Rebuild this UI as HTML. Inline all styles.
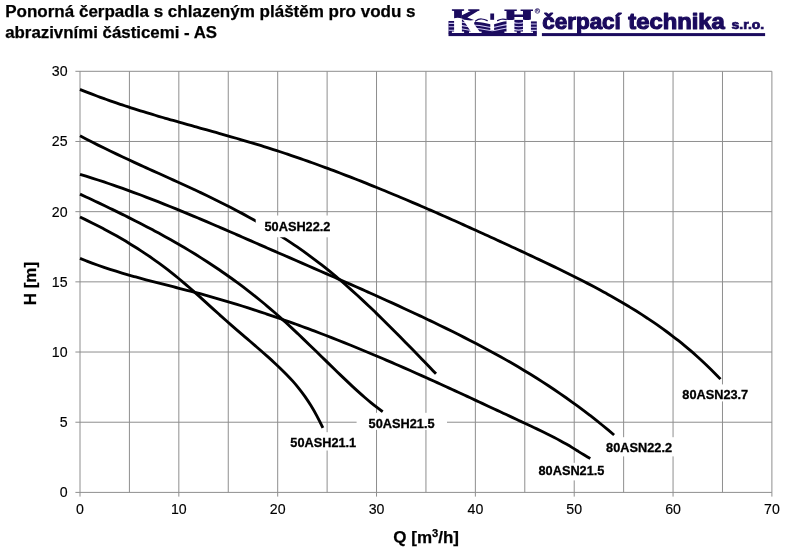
<!DOCTYPE html>
<html lang="cs"><head><meta charset="utf-8"><title>Ponorná čerpadla AS</title>
<style>
html,body{margin:0;padding:0;background:#fff;}
body{width:800px;height:558px;overflow:hidden;font-family:"Liberation Sans",sans-serif;}
svg{display:block;font-family:"Liberation Sans",sans-serif;will-change:transform;}
.ax{font-size:14.17px;fill:#000;stroke:#000;stroke-width:0.15;}
.lb{font-size:12.75px;font-weight:bold;fill:#000;stroke:#000;stroke-width:0.3;}
.tt{font-size:17px;font-weight:bold;fill:#000;stroke:#000;stroke-width:0.25;}
.cv{fill:none;stroke:#000;stroke-width:2.85;stroke-linecap:butt;stroke-linejoin:round;}
.g{stroke:#8e8e8e;stroke-width:1;fill:none;}
</style></head><body>
<svg width="800" height="558" viewBox="0 0 800 558">
<rect x="0" y="0" width="800" height="558" fill="#ffffff"/>
<text class="tt" style="font-size:17.03px" x="5.2" y="16.8">Ponorná čerpadla s chlazeným pláštěm pro vodu s</text>
<text class="tt" style="font-size:16.85px" x="5.2" y="37.9">abrazivními částicemi - AS</text>
<g id="logo">
<!-- dark wave field pieces -->
<g fill="#1b0b5e">
<rect x="448.5" y="21.0" width="6.5" height="12.5"/>
<path d="M461 19.6 L468.5 19.8 L474 33.2 L461 33.2 Z"/>
<path d="M474.2 22.3 C479 21.5 485 23.0 490.3 24.3 L494.1 24.3 C499 23.0 503 21.5 507 21.3 L507 33.2 L474.2 33.2 Z"/>
<rect x="513.6" y="19.9" width="10.4" height="13.4"/>
<rect x="530.2" y="21.4" width="6.6" height="12"/>
<rect x="448.5" y="32.8" width="88.3" height="3.3"/>
</g>
<!-- crest strokes -->
<g fill="none" stroke="#1b0b5e" stroke-width="1.25" stroke-linecap="round">
<path d="M475.6 21.0 Q478.2 18.9 481.5 19.0 Q484.6 19.3 487.2 20.6"/>
<path d="M497.6 20.6 Q500.2 19.2 503.0 19.0 Q505.2 19.0 506.8 19.6"/>
</g>
<!-- light stripes -->
<g fill="none" stroke="#cfc9f2" stroke-width="1.1">
<path d="M448.5 23.4 H455 M448.5 26.8 H455 M448.5 30.2 H455"/>
<path d="M461 22.0 L470 23.6 M461 25.4 L471.4 27.2 M461 28.8 L472.8 30.8"/>
<path d="M474.2 25.3 C480 24.9 486 27.0 492.2 27.6 C498 27.0 502 25.0 507 24.6"/>
<path d="M476 28.5 C481 28.3 486 30.3 492.2 30.7 C498 30.3 502 28.4 507 28.0"/>
<path d="M513.6 22.6 C517 23.6 520 23.6 524 22.6 M513.6 26.0 C517 27.0 520 27.0 524 26.0 M513.6 29.4 C517 30.4 520 30.4 524 29.4"/>
<path d="M530.2 24.0 H536.8 M530.2 27.2 H536.8 M530.2 30.4 H536.8"/>
</g>
<!-- white lower letter parts -->
<g fill="#ffffff">
<path d="M454.1 18.2 C456.5 17.4 459.5 17.4 461.9 18.6 L461.9 31.4 L464.1 31.6 L464.1 33.0 L451.9 33.0 L451.9 31.6 L454.1 31.4 Z"/>
<path d="M462.5 19.4 L470.5 19.2 L479.6 31.5 L481.6 31.6 L481.6 33.0 L469.0 33.0 L469.0 31.6 L470.8 31.4 L464.4 21.8 Z"/>
<rect x="490.3" y="19.6" width="3.8" height="10.6"/>
<path d="M506.5 19.4 C509 20.2 512 20.2 514.4 19.4 L514.4 31.4 L516.8 31.6 L516.8 32.9 L504.4 32.9 L504.4 31.6 L506.5 31.4 Z"/>
<path d="M523.0 19.4 C525.5 20.2 528.5 20.2 530.9 19.4 L530.9 31.4 L533.0 31.6 L533.0 32.9 L520.6 32.9 L520.6 31.6 L523.0 31.4 Z"/>
</g>
<!-- dark upper letter parts -->
<g fill="#1b0b5e">
<path d="M451.9 9.2 L464.1 9.2 L464.1 10.7 L461.9 10.9 L461.9 18.6 C459.5 17.4 456.5 17.4 454.1 18.2 L454.1 10.9 L451.9 10.7 Z"/>
<path d="M468.2 9.2 L479.4 9.2 L479.4 10.7 L477.9 10.9 L467.3 17.4 L474.0 20.0 L470.6 20.4 L464.4 19.8 L461.9 18.4 L461.9 15.2 L470.6 10.9 L468.2 10.7 Z"/>
<rect x="490.3" y="13.5" width="3.8" height="6.3"/>
<path d="M504.4 9.4 L516.8 9.4 L516.8 10.9 L514.4 11.1 L514.4 14.6 L523.0 14.6 L523.0 11.1 L520.6 10.9 L520.6 9.4 L533.0 9.4 L533.0 10.9 L530.9 11.1 L530.9 19.4 C528.5 20.2 525.5 20.2 523.0 19.4 L523.0 17.0 L514.4 17.0 L514.4 19.4 C512 20.2 509 20.2 506.5 19.4 L506.5 11.1 L504.4 10.9 Z"/>
</g>
<!-- registered mark -->
<circle cx="537.4" cy="10.9" r="2.3" fill="none" stroke="#1b0b5e" stroke-width="0.7"/>
<text x="537.4" y="12.3" text-anchor="middle" font-size="3.8" font-weight="bold" fill="#1b0b5e">R</text>
<!-- underline -->
<rect x="541.9" y="33.1" width="223.2" height="3.0" fill="#1b0b5e"/>
<!-- wordmark -->
<g fill="#1b0b5e" stroke="#1b0b5e" stroke-width="1.15" stroke-linejoin="round" font-weight="bold">
<text x="542.3" y="29" font-size="22.4" textLength="78.5" lengthAdjust="spacingAndGlyphs">čerpací</text>
<text x="628.3" y="29" font-size="22.4" textLength="96.5" lengthAdjust="spacingAndGlyphs">technika</text>
</g>
<text x="731.6" y="29" font-size="12" font-weight="bold" fill="#1b0b5e" stroke="#1b0b5e" stroke-width="0.7" textLength="32.6" lengthAdjust="spacingAndGlyphs">s.r.o.</text>
</g>

<g class="g">
<line x1="80.00" y1="71.30" x2="80.00" y2="492.40"/>
<line x1="129.42" y1="71.30" x2="129.42" y2="492.40"/>
<line x1="178.84" y1="71.30" x2="178.84" y2="492.40"/>
<line x1="228.26" y1="71.30" x2="228.26" y2="492.40"/>
<line x1="277.69" y1="71.30" x2="277.69" y2="492.40"/>
<line x1="327.11" y1="71.30" x2="327.11" y2="492.40"/>
<line x1="376.53" y1="71.30" x2="376.53" y2="492.40"/>
<line x1="425.95" y1="71.30" x2="425.95" y2="492.40"/>
<line x1="475.37" y1="71.30" x2="475.37" y2="492.40"/>
<line x1="524.79" y1="71.30" x2="524.79" y2="492.40"/>
<line x1="574.21" y1="71.30" x2="574.21" y2="492.40"/>
<line x1="623.64" y1="71.30" x2="623.64" y2="492.40"/>
<line x1="673.06" y1="71.30" x2="673.06" y2="492.40"/>
<line x1="722.48" y1="71.30" x2="722.48" y2="492.40"/>
<line x1="771.90" y1="71.30" x2="771.90" y2="492.40"/>
<line x1="75.40" y1="492.40" x2="771.90" y2="492.40"/>
<line x1="75.40" y1="422.22" x2="771.90" y2="422.22"/>
<line x1="75.40" y1="352.03" x2="771.90" y2="352.03"/>
<line x1="75.40" y1="281.85" x2="771.90" y2="281.85"/>
<line x1="75.40" y1="211.67" x2="771.90" y2="211.67"/>
<line x1="75.40" y1="141.48" x2="771.90" y2="141.48"/>
<line x1="75.40" y1="71.30" x2="771.90" y2="71.30"/>
<line x1="80.00" y1="492.40" x2="80.00" y2="496.60"/>
<line x1="178.84" y1="492.40" x2="178.84" y2="496.60"/>
<line x1="277.69" y1="492.40" x2="277.69" y2="496.60"/>
<line x1="376.53" y1="492.40" x2="376.53" y2="496.60"/>
<line x1="475.37" y1="492.40" x2="475.37" y2="496.60"/>
<line x1="574.21" y1="492.40" x2="574.21" y2="496.60"/>
<line x1="673.06" y1="492.40" x2="673.06" y2="496.60"/>
<line x1="771.90" y1="492.40" x2="771.90" y2="496.60"/>
</g>
<path class="cv" d="M80.00 89.43 C82.01 90.25 84.03 91.05 86.04 91.85 C88.06 92.64 90.07 93.42 92.08 94.19 C94.10 94.96 96.11 95.72 98.13 96.47 C100.14 97.22 102.16 97.96 104.17 98.68 C106.18 99.41 108.20 100.13 110.21 100.83 C112.23 101.54 114.24 102.24 116.25 102.92 C118.27 103.61 120.28 104.29 122.30 104.96 C124.31 105.63 126.33 106.29 128.34 106.95 C130.35 107.60 132.37 108.25 134.38 108.89 C136.40 109.53 138.41 110.16 140.42 110.79 C142.44 111.41 144.45 112.03 146.47 112.65 C148.48 113.26 150.50 113.87 152.51 114.47 C154.52 115.07 156.54 115.67 158.55 116.26 C160.57 116.86 162.58 117.44 164.59 118.03 C166.61 118.61 168.62 119.19 170.64 119.77 C172.65 120.35 174.67 120.92 176.68 121.49 C178.69 122.07 180.71 122.63 182.72 123.20 C184.74 123.77 186.75 124.33 188.76 124.90 C190.78 125.46 192.79 126.02 194.81 126.58 C196.82 127.15 198.83 127.71 200.85 128.27 C202.86 128.83 204.88 129.39 206.89 129.95 C208.91 130.51 210.92 131.08 212.93 131.64 C214.95 132.20 216.96 132.77 218.98 133.33 C220.99 133.90 223.00 134.47 225.02 135.04 C227.03 135.61 229.05 136.18 231.06 136.76 C233.08 137.34 235.09 137.92 237.10 138.50 C239.12 139.09 241.13 139.67 243.15 140.27 C245.16 140.86 247.17 141.45 249.19 142.06 C251.20 142.66 253.22 143.26 255.23 143.88 C257.25 144.49 259.26 145.11 261.27 145.73 C263.29 146.36 265.30 146.99 267.32 147.63 C269.33 148.26 271.34 148.91 273.36 149.55 C275.37 150.20 277.39 150.86 279.40 151.52 C281.42 152.18 283.43 152.85 285.44 153.52 C287.46 154.19 289.47 154.87 291.49 155.56 C293.50 156.24 295.51 156.93 297.53 157.62 C299.54 158.32 301.56 159.02 303.57 159.73 C305.58 160.43 307.60 161.14 309.61 161.86 C311.63 162.58 313.64 163.30 315.66 164.03 C317.67 164.75 319.68 165.49 321.70 166.22 C323.71 166.96 325.73 167.70 327.74 168.45 C329.75 169.20 331.77 169.95 333.78 170.70 C335.80 171.46 337.81 172.22 339.83 172.99 C341.84 173.75 343.85 174.52 345.87 175.30 C347.88 176.07 349.90 176.85 351.91 177.64 C353.92 178.42 355.94 179.21 357.95 180.00 C359.97 180.80 361.98 181.59 364.00 182.39 C366.01 183.20 368.02 184.00 370.04 184.81 C372.05 185.62 374.07 186.43 376.08 187.25 C378.09 188.07 380.11 188.89 382.12 189.71 C384.14 190.54 386.15 191.36 388.17 192.20 C390.18 193.03 392.19 193.86 394.21 194.70 C396.22 195.54 398.24 196.38 400.25 197.23 C402.26 198.08 404.28 198.93 406.29 199.78 C408.31 200.63 410.32 201.49 412.33 202.35 C414.35 203.21 416.36 204.07 418.38 204.93 C420.39 205.80 422.41 206.67 424.42 207.54 C426.43 208.41 428.45 209.28 430.46 210.16 C432.48 211.04 434.49 211.92 436.50 212.80 C438.52 213.68 440.53 214.56 442.55 215.45 C444.56 216.34 446.58 217.23 448.59 218.12 C450.60 219.01 452.62 219.91 454.63 220.81 C456.65 221.70 458.66 222.60 460.67 223.51 C462.69 224.41 464.70 225.31 466.72 226.22 C468.73 227.12 470.75 228.03 472.76 228.94 C474.77 229.85 476.79 230.77 478.80 231.68 C480.82 232.60 482.83 233.51 484.84 234.43 C486.86 235.35 488.87 236.27 490.89 237.19 C492.90 238.11 494.92 239.04 496.93 239.96 C498.94 240.89 500.96 241.81 502.97 242.74 C504.99 243.67 507.00 244.60 509.01 245.53 C511.03 246.46 513.04 247.40 515.06 248.33 C517.07 249.27 519.08 250.20 521.10 251.14 C523.11 252.07 525.13 253.01 527.14 253.95 C529.16 254.89 531.17 255.83 533.18 256.78 C535.20 257.72 537.21 258.66 539.23 259.61 C541.24 260.56 543.25 261.51 545.27 262.47 C547.28 263.42 549.30 264.38 551.31 265.35 C553.33 266.31 555.34 267.28 557.35 268.26 C559.37 269.23 561.38 270.21 563.40 271.20 C565.41 272.18 567.42 273.18 569.44 274.18 C571.45 275.18 573.47 276.18 575.48 277.20 C577.50 278.21 579.51 279.23 581.52 280.27 C583.54 281.30 585.55 282.34 587.57 283.39 C589.58 284.44 591.59 285.50 593.61 286.56 C595.62 287.63 597.64 288.71 599.65 289.80 C601.67 290.90 603.68 292.00 605.69 293.11 C607.71 294.23 609.72 295.35 611.74 296.49 C613.75 297.63 615.76 298.78 617.78 299.94 C619.79 301.11 621.81 302.29 623.82 303.48 C625.83 304.67 627.85 305.88 629.86 307.10 C631.88 308.32 633.89 309.56 635.91 310.82 C637.92 312.08 639.93 313.35 641.95 314.65 C643.96 315.94 645.98 317.26 647.99 318.59 C650.00 319.93 652.02 321.29 654.03 322.67 C656.05 324.05 658.06 325.45 660.08 326.88 C662.09 328.31 664.10 329.77 666.12 331.25 C668.13 332.73 670.15 334.24 672.16 335.78 C674.17 337.32 676.19 338.88 678.20 340.48 C680.22 342.08 682.23 343.70 684.25 345.36 C686.26 347.02 688.27 348.72 690.29 350.44 C692.30 352.17 694.32 353.93 696.33 355.73 C698.34 357.52 700.36 359.35 702.37 361.23 C704.39 363.10 706.40 365.00 708.42 366.95 C710.43 368.90 712.44 370.89 714.46 372.92 C716.47 374.95 718.49 377.02 720.50 379.14"/>
<path class="cv" d="M80.00 135.82 C82.01 136.88 84.02 137.94 86.03 138.98 C88.05 140.02 90.06 141.05 92.07 142.08 C94.08 143.10 96.09 144.11 98.10 145.11 C100.11 146.11 102.12 147.11 104.14 148.09 C106.15 149.08 108.16 150.05 110.17 151.02 C112.18 151.99 114.19 152.95 116.20 153.90 C118.21 154.86 120.23 155.81 122.24 156.75 C124.25 157.69 126.26 158.63 128.27 159.56 C130.28 160.49 132.29 161.42 134.31 162.34 C136.32 163.27 138.33 164.19 140.34 165.10 C142.35 166.02 144.36 166.93 146.37 167.85 C148.38 168.76 150.40 169.67 152.41 170.58 C154.42 171.48 156.43 172.39 158.44 173.30 C160.45 174.21 162.46 175.12 164.47 176.02 C166.49 176.93 168.50 177.84 170.51 178.75 C172.52 179.66 174.53 180.58 176.54 181.49 C178.55 182.41 180.56 183.33 182.58 184.25 C184.59 185.17 186.60 186.09 188.61 187.02 C190.62 187.95 192.63 188.89 194.64 189.83 C196.66 190.77 198.67 191.71 200.68 192.66 C202.69 193.61 204.70 194.57 206.71 195.54 C208.72 196.50 210.73 197.47 212.75 198.45 C214.76 199.43 216.77 200.42 218.78 201.42 C220.79 202.42 222.80 203.42 224.81 204.44 C226.82 205.46 228.84 206.48 230.85 207.52 C232.86 208.56 234.87 209.60 236.88 210.66 C238.89 211.73 240.90 212.80 242.92 213.88 C244.93 214.97 246.94 216.06 248.95 217.18 C250.96 218.29 252.97 219.41 254.98 220.55 C256.99 221.69 259.01 222.84 261.02 224.01 C263.03 225.18 265.04 226.37 267.05 227.57 C269.06 228.77 271.07 229.99 273.08 231.22 C275.10 232.46 277.11 233.71 279.12 234.98 C281.13 236.25 283.14 237.54 285.15 238.85 C287.16 240.16 289.18 241.49 291.19 242.84 C293.20 244.18 295.21 245.55 297.22 246.94 C299.23 248.33 301.24 249.74 303.25 251.17 C305.27 252.60 307.28 254.06 309.29 255.53 C311.30 257.01 313.31 258.51 315.32 260.03 C317.33 261.56 319.34 263.10 321.36 264.68 C323.37 266.25 325.38 267.84 327.39 269.47 C329.40 271.09 331.41 272.74 333.42 274.41 C335.44 276.08 337.45 277.78 339.46 279.50 C341.47 281.21 343.48 282.96 345.49 284.72 C347.50 286.48 349.51 288.27 351.53 290.07 C353.54 291.87 355.55 293.70 357.56 295.54 C359.57 297.38 361.58 299.25 363.59 301.12 C365.60 303.00 367.62 304.90 369.63 306.81 C371.64 308.72 373.65 310.65 375.66 312.59 C377.67 314.54 379.68 316.49 381.69 318.46 C383.71 320.43 385.72 322.42 387.73 324.41 C389.74 326.41 391.75 328.41 393.76 330.43 C395.77 332.45 397.79 334.47 399.80 336.51 C401.81 338.55 403.82 340.59 405.83 342.65 C407.84 344.70 409.85 346.76 411.86 348.83 C413.88 350.89 415.89 352.97 417.90 355.05 C419.91 357.12 421.92 359.21 423.93 361.29 C425.94 363.38 427.95 365.47 429.97 367.56 C431.98 369.66 433.99 371.75 436.00 373.85"/>
<path class="cv" d="M80.00 174.36 C82.00 174.96 84.00 175.56 86.00 176.18 C88.00 176.80 90.00 177.42 92.00 178.06 C94.00 178.69 96.00 179.34 98.00 179.99 C100.00 180.64 102.00 181.30 104.00 181.97 C106.00 182.63 108.01 183.31 110.01 183.99 C112.01 184.67 114.01 185.37 116.01 186.06 C118.01 186.76 120.01 187.47 122.01 188.18 C124.01 188.89 126.01 189.61 128.01 190.34 C130.01 191.06 132.01 191.80 134.01 192.54 C136.01 193.28 138.01 194.02 140.01 194.77 C142.01 195.53 144.01 196.28 146.01 197.05 C148.01 197.81 150.01 198.58 152.01 199.36 C154.01 200.13 156.01 200.91 158.01 201.70 C160.01 202.49 162.02 203.28 164.02 204.07 C166.02 204.87 168.02 205.67 170.02 206.48 C172.02 207.28 174.02 208.09 176.02 208.91 C178.02 209.72 180.02 210.54 182.02 211.36 C184.02 212.19 186.02 213.01 188.02 213.84 C190.02 214.67 192.02 215.51 194.02 216.35 C196.02 217.18 198.02 218.03 200.02 218.87 C202.02 219.71 204.02 220.56 206.02 221.41 C208.02 222.26 210.02 223.11 212.02 223.97 C214.03 224.83 216.03 225.68 218.03 226.54 C220.03 227.40 222.03 228.27 224.03 229.13 C226.03 229.99 228.03 230.86 230.03 231.73 C232.03 232.59 234.03 233.46 236.03 234.33 C238.03 235.20 240.03 236.08 242.03 236.95 C244.03 237.82 246.03 238.69 248.03 239.57 C250.03 240.44 252.03 241.32 254.03 242.19 C256.03 243.07 258.03 243.94 260.03 244.82 C262.03 245.69 264.03 246.57 266.03 247.45 C268.04 248.32 270.04 249.20 272.04 250.07 C274.04 250.94 276.04 251.82 278.04 252.69 C280.04 253.57 282.04 254.44 284.04 255.31 C286.04 256.18 288.04 257.05 290.04 257.92 C292.04 258.79 294.04 259.66 296.04 260.53 C298.04 261.40 300.04 262.27 302.04 263.14 C304.04 264.01 306.04 264.88 308.04 265.75 C310.04 266.62 312.04 267.49 314.04 268.36 C316.04 269.23 318.04 270.10 320.04 270.97 C322.05 271.84 324.05 272.72 326.05 273.59 C328.05 274.46 330.05 275.33 332.05 276.21 C334.05 277.08 336.05 277.96 338.05 278.83 C340.05 279.71 342.05 280.59 344.05 281.47 C346.05 282.34 348.05 283.22 350.05 284.11 C352.05 284.99 354.05 285.87 356.05 286.75 C358.05 287.64 360.05 288.53 362.05 289.41 C364.05 290.30 366.05 291.19 368.05 292.08 C370.05 292.98 372.05 293.87 374.06 294.77 C376.06 295.66 378.06 296.56 380.06 297.47 C382.06 298.37 384.06 299.27 386.06 300.18 C388.06 301.08 390.06 301.99 392.06 302.91 C394.06 303.82 396.06 304.73 398.06 305.65 C400.06 306.57 402.06 307.49 404.06 308.42 C406.06 309.34 408.06 310.27 410.06 311.20 C412.06 312.13 414.06 313.07 416.06 314.01 C418.06 314.94 420.06 315.89 422.06 316.83 C424.06 317.78 426.06 318.73 428.07 319.68 C430.07 320.64 432.07 321.59 434.07 322.56 C436.07 323.52 438.07 324.49 440.07 325.46 C442.07 326.43 444.07 327.40 446.07 328.38 C448.07 329.36 450.07 330.35 452.07 331.34 C454.07 332.33 456.07 333.33 458.07 334.33 C460.07 335.33 462.07 336.34 464.07 337.36 C466.07 338.38 468.07 339.40 470.07 340.43 C472.07 341.46 474.07 342.49 476.07 343.54 C478.07 344.58 480.07 345.64 482.08 346.70 C484.08 347.76 486.08 348.83 488.08 349.91 C490.08 350.99 492.08 352.07 494.08 353.17 C496.08 354.27 498.08 355.37 500.08 356.49 C502.08 357.61 504.08 358.73 506.08 359.87 C508.08 361.01 510.08 362.16 512.08 363.32 C514.08 364.48 516.08 365.65 518.08 366.83 C520.08 368.01 522.08 369.21 524.08 370.41 C526.08 371.62 528.08 372.84 530.08 374.07 C532.08 375.30 534.09 376.55 536.09 377.81 C538.09 379.07 540.09 380.34 542.09 381.62 C544.09 382.91 546.09 384.21 548.09 385.53 C550.09 386.84 552.09 388.17 554.09 389.52 C556.09 390.86 558.09 392.22 560.09 393.60 C562.09 394.97 564.09 396.36 566.09 397.77 C568.09 399.18 570.09 400.60 572.09 402.04 C574.09 403.48 576.09 404.94 578.09 406.42 C580.09 407.89 582.09 409.39 584.09 410.90 C586.09 412.41 588.10 413.94 590.10 415.48 C592.10 417.03 594.10 418.60 596.10 420.18 C598.10 421.77 600.10 423.37 602.10 425.00 C604.10 426.62 606.10 428.27 608.10 429.93 C610.10 431.59 612.10 433.28 614.10 434.98"/>
<path class="cv" d="M80.00 194.09 C82.02 195.04 84.04 195.98 86.05 196.93 C88.07 197.88 90.09 198.83 92.11 199.78 C94.13 200.74 96.14 201.69 98.16 202.65 C100.18 203.61 102.20 204.57 104.22 205.54 C106.23 206.50 108.25 207.47 110.27 208.45 C112.29 209.42 114.31 210.40 116.32 211.38 C118.34 212.37 120.36 213.36 122.38 214.35 C124.40 215.35 126.41 216.35 128.43 217.36 C130.45 218.37 132.47 219.38 134.49 220.41 C136.50 221.43 138.52 222.46 140.54 223.50 C142.56 224.54 144.58 225.58 146.59 226.64 C148.61 227.69 150.63 228.76 152.65 229.83 C154.67 230.91 156.68 231.99 158.70 233.09 C160.72 234.18 162.74 235.29 164.76 236.40 C166.77 237.52 168.79 238.65 170.81 239.79 C172.83 240.92 174.85 242.08 176.86 243.24 C178.88 244.40 180.90 245.58 182.92 246.77 C184.94 247.96 186.95 249.16 188.97 250.38 C190.99 251.60 193.01 252.83 195.03 254.07 C197.04 255.32 199.06 256.58 201.08 257.85 C203.10 259.13 205.12 260.42 207.13 261.73 C209.15 263.04 211.17 264.36 213.19 265.70 C215.21 267.04 217.22 268.40 219.24 269.78 C221.26 271.15 223.28 272.55 225.30 273.96 C227.31 275.37 229.33 276.80 231.35 278.25 C233.37 279.70 235.39 281.17 237.40 282.66 C239.42 284.14 241.44 285.65 243.46 287.18 C245.48 288.71 247.49 290.26 249.51 291.83 C251.53 293.40 253.55 294.99 255.57 296.61 C257.58 298.22 259.60 299.85 261.62 301.51 C263.64 303.17 265.66 304.85 267.67 306.56 C269.69 308.26 271.71 309.99 273.73 311.74 C275.75 313.50 277.76 315.27 279.78 317.08 C281.80 318.88 283.82 320.70 285.84 322.55 C287.85 324.39 289.87 326.26 291.89 328.14 C293.91 330.02 295.93 331.92 297.94 333.83 C299.96 335.75 301.98 337.67 304.00 339.61 C306.02 341.54 308.03 343.49 310.05 345.45 C312.07 347.40 314.09 349.36 316.11 351.32 C318.12 353.29 320.14 355.26 322.16 357.23 C324.18 359.19 326.20 361.16 328.21 363.13 C330.23 365.10 332.25 367.06 334.27 369.02 C336.29 370.97 338.30 372.92 340.32 374.87 C342.34 376.81 344.36 378.74 346.38 380.65 C348.39 382.57 350.41 384.47 352.43 386.34 C354.45 388.22 356.47 390.06 358.48 391.88 C360.50 393.70 362.52 395.49 364.54 397.24 C366.56 398.98 368.57 400.69 370.59 402.35 C372.61 404.02 374.63 405.63 376.65 407.20 C378.66 408.76 380.68 410.27 382.70 411.72"/>
<path class="cv" d="M80.00 217.00 C82.02 217.96 84.05 218.93 86.07 219.92 C88.10 220.90 90.12 221.90 92.14 222.91 C94.17 223.92 96.19 224.95 98.22 225.99 C100.24 227.03 102.27 228.09 104.29 229.16 C106.31 230.24 108.34 231.33 110.36 232.44 C112.39 233.55 114.41 234.67 116.44 235.82 C118.46 236.97 120.48 238.13 122.51 239.32 C124.53 240.50 126.56 241.71 128.58 242.94 C130.60 244.16 132.63 245.41 134.65 246.69 C136.68 247.96 138.70 249.26 140.72 250.58 C142.75 251.90 144.77 253.24 146.80 254.61 C148.82 255.98 150.85 257.38 152.87 258.80 C154.89 260.22 156.92 261.67 158.94 263.15 C160.97 264.63 162.99 266.13 165.01 267.67 C167.04 269.20 169.06 270.76 171.09 272.36 C173.11 273.95 175.14 275.58 177.16 277.23 C179.18 278.89 181.21 280.58 183.23 282.30 C185.26 284.01 187.28 285.76 189.31 287.53 C191.33 289.29 193.35 291.08 195.38 292.88 C197.40 294.68 199.43 296.50 201.45 298.33 C203.47 300.16 205.50 301.99 207.52 303.83 C209.55 305.67 211.57 307.51 213.59 309.35 C215.62 311.19 217.64 313.02 219.67 314.84 C221.69 316.67 223.72 318.48 225.74 320.28 C227.76 322.08 229.79 323.86 231.81 325.63 C233.84 327.39 235.86 329.14 237.88 330.88 C239.91 332.62 241.93 334.36 243.96 336.09 C245.98 337.82 248.01 339.55 250.03 341.28 C252.05 343.02 254.08 344.76 256.10 346.51 C258.13 348.26 260.15 350.02 262.17 351.79 C264.20 353.57 266.22 355.36 268.25 357.18 C270.27 359.00 272.30 360.84 274.32 362.71 C276.34 364.58 278.37 366.48 280.39 368.43 C282.42 370.37 284.44 372.36 286.47 374.43 C288.49 376.50 290.51 378.65 292.54 380.92 C294.56 383.18 296.59 385.56 298.61 388.08 C300.63 390.60 302.66 393.27 304.68 396.12 C306.71 398.98 308.73 402.02 310.75 405.29 C312.78 408.56 314.80 412.05 316.83 415.82 C318.85 419.58 320.88 423.62 322.90 427.96"/>
<path class="cv" d="M80.00 258.40 C82.00 259.22 84.00 260.02 86.00 260.80 C88.00 261.58 90.01 262.34 92.01 263.09 C94.01 263.83 96.01 264.55 98.01 265.26 C100.01 265.97 102.01 266.66 104.01 267.34 C106.02 268.02 108.02 268.68 110.02 269.33 C112.02 269.98 114.02 270.61 116.02 271.23 C118.02 271.85 120.02 272.46 122.02 273.06 C124.03 273.66 126.03 274.25 128.03 274.82 C130.03 275.40 132.03 275.97 134.03 276.53 C136.03 277.09 138.03 277.64 140.04 278.18 C142.04 278.72 144.04 279.26 146.04 279.79 C148.04 280.32 150.04 280.85 152.04 281.37 C154.04 281.89 156.04 282.41 158.05 282.92 C160.05 283.43 162.05 283.94 164.05 284.45 C166.05 284.96 168.05 285.47 170.05 285.98 C172.05 286.49 174.06 286.99 176.06 287.50 C178.06 288.01 180.06 288.52 182.06 289.03 C184.06 289.54 186.06 290.06 188.06 290.58 C190.06 291.09 192.07 291.62 194.07 292.14 C196.07 292.67 198.07 293.20 200.07 293.74 C202.07 294.28 204.07 294.83 206.07 295.38 C208.08 295.93 210.08 296.49 212.08 297.05 C214.08 297.62 216.08 298.19 218.08 298.77 C220.08 299.35 222.08 299.93 224.08 300.52 C226.09 301.11 228.09 301.71 230.09 302.31 C232.09 302.91 234.09 303.52 236.09 304.13 C238.09 304.75 240.09 305.37 242.10 305.99 C244.10 306.62 246.10 307.25 248.10 307.89 C250.10 308.53 252.10 309.17 254.10 309.82 C256.10 310.47 258.10 311.13 260.11 311.79 C262.11 312.45 264.11 313.12 266.11 313.79 C268.11 314.46 270.11 315.14 272.11 315.82 C274.11 316.51 276.12 317.20 278.12 317.89 C280.12 318.58 282.12 319.28 284.12 319.99 C286.12 320.69 288.12 321.40 290.12 322.12 C292.12 322.83 294.13 323.55 296.13 324.28 C298.13 325.01 300.13 325.74 302.13 326.47 C304.13 327.21 306.13 327.95 308.13 328.69 C310.14 329.44 312.14 330.19 314.14 330.95 C316.14 331.70 318.14 332.46 320.14 333.23 C322.14 333.99 324.14 334.76 326.14 335.54 C328.15 336.31 330.15 337.09 332.15 337.87 C334.15 338.66 336.15 339.45 338.15 340.24 C340.15 341.03 342.15 341.83 344.16 342.63 C346.16 343.43 348.16 344.24 350.16 345.05 C352.16 345.86 354.16 346.67 356.16 347.49 C358.16 348.31 360.16 349.13 362.17 349.96 C364.17 350.79 366.17 351.62 368.17 352.46 C370.17 353.29 372.17 354.13 374.17 354.97 C376.17 355.82 378.18 356.66 380.18 357.51 C382.18 358.37 384.18 359.22 386.18 360.08 C388.18 360.94 390.18 361.80 392.18 362.67 C394.18 363.53 396.19 364.40 398.19 365.27 C400.19 366.14 402.19 367.02 404.19 367.90 C406.19 368.78 408.19 369.66 410.19 370.54 C412.20 371.43 414.20 372.32 416.20 373.21 C418.20 374.10 420.20 374.99 422.20 375.89 C424.20 376.78 426.20 377.68 428.20 378.58 C430.21 379.48 432.21 380.39 434.21 381.29 C436.21 382.20 438.21 383.11 440.21 384.02 C442.21 384.93 444.21 385.84 446.22 386.75 C448.22 387.67 450.22 388.58 452.22 389.50 C454.22 390.42 456.22 391.34 458.22 392.26 C460.22 393.18 462.22 394.10 464.23 395.03 C466.23 395.95 468.23 396.88 470.23 397.80 C472.23 398.73 474.23 399.66 476.23 400.59 C478.23 401.52 480.24 402.45 482.24 403.38 C484.24 404.31 486.24 405.24 488.24 406.17 C490.24 407.11 492.24 408.04 494.24 408.97 C496.24 409.91 498.25 410.84 500.25 411.78 C502.25 412.71 504.25 413.65 506.25 414.58 C508.25 415.52 510.25 416.46 512.25 417.39 C514.26 418.33 516.26 419.26 518.26 420.20 C520.26 421.14 522.26 422.07 524.26 423.01 C526.26 423.94 528.26 424.88 530.26 425.82 C532.27 426.76 534.27 427.70 536.27 428.65 C538.27 429.60 540.27 430.56 542.27 431.53 C544.27 432.51 546.27 433.49 548.28 434.49 C550.28 435.50 552.28 436.52 554.28 437.56 C556.28 438.60 558.28 439.66 560.28 440.75 C562.28 441.84 564.28 442.95 566.29 444.09 C568.29 445.24 570.29 446.41 572.29 447.62 C574.29 448.83 576.29 450.09 578.29 451.34 C580.29 452.60 582.30 453.86 584.30 455.07 C586.30 456.28 588.30 457.45 590.30 458.52"/>
<rect x="255.7" y="215.5" width="82.8" height="21.8" fill="#fff"/>
<rect x="356.6" y="412.8" width="90.4" height="17.0" fill="#fff"/>
<rect x="281.0" y="432.2" width="84.0" height="18.3" fill="#fff"/>
<rect x="675.0" y="384.4" width="80.0" height="17.0" fill="#fff"/>
<rect x="596.0" y="437.2" width="86.0" height="19.2" fill="#fff"/>
<rect x="527.0" y="462.8" width="86.0" height="17.6" fill="#fff"/>
<text class="lb" x="264.5" y="230.6">50ASH22.2</text>
<text class="lb" x="368.6" y="427.5">50ASH21.5</text>
<text class="lb" x="290.3" y="446.8">50ASH21.1</text>
<text class="lb" x="682.3" y="398.5">80ASN23.7</text>
<text class="lb" x="606.1" y="451.7">80ASN22.2</text>
<text class="lb" x="538.5" y="475.2">80ASN21.5</text>
<text class="ax" text-anchor="end" x="67.6" y="497.2">0</text>
<text class="ax" text-anchor="end" x="67.6" y="427.0">5</text>
<text class="ax" text-anchor="end" x="67.6" y="356.8">10</text>
<text class="ax" text-anchor="end" x="67.6" y="286.7">15</text>
<text class="ax" text-anchor="end" x="67.6" y="216.5">20</text>
<text class="ax" text-anchor="end" x="67.6" y="146.3">25</text>
<text class="ax" text-anchor="end" x="67.6" y="76.1">30</text>
<text class="ax" text-anchor="middle" x="80.0" y="513.7">0</text>
<text class="ax" text-anchor="middle" x="178.8" y="513.7">10</text>
<text class="ax" text-anchor="middle" x="277.7" y="513.7">20</text>
<text class="ax" text-anchor="middle" x="376.5" y="513.7">30</text>
<text class="ax" text-anchor="middle" x="475.4" y="513.7">40</text>
<text class="ax" text-anchor="middle" x="574.2" y="513.7">50</text>
<text class="ax" text-anchor="middle" x="673.1" y="513.7">60</text>
<text class="ax" text-anchor="middle" x="771.9" y="513.7">70</text>
<text class="tt" text-anchor="middle" transform="translate(36.0 283.6) rotate(-90)">H [m]</text>
<text class="tt" x="393.3" y="542.8">Q [m<tspan font-size="11.2" dy="-5.8">3</tspan><tspan dy="5.8">/h]</tspan></text>
</svg></body></html>
